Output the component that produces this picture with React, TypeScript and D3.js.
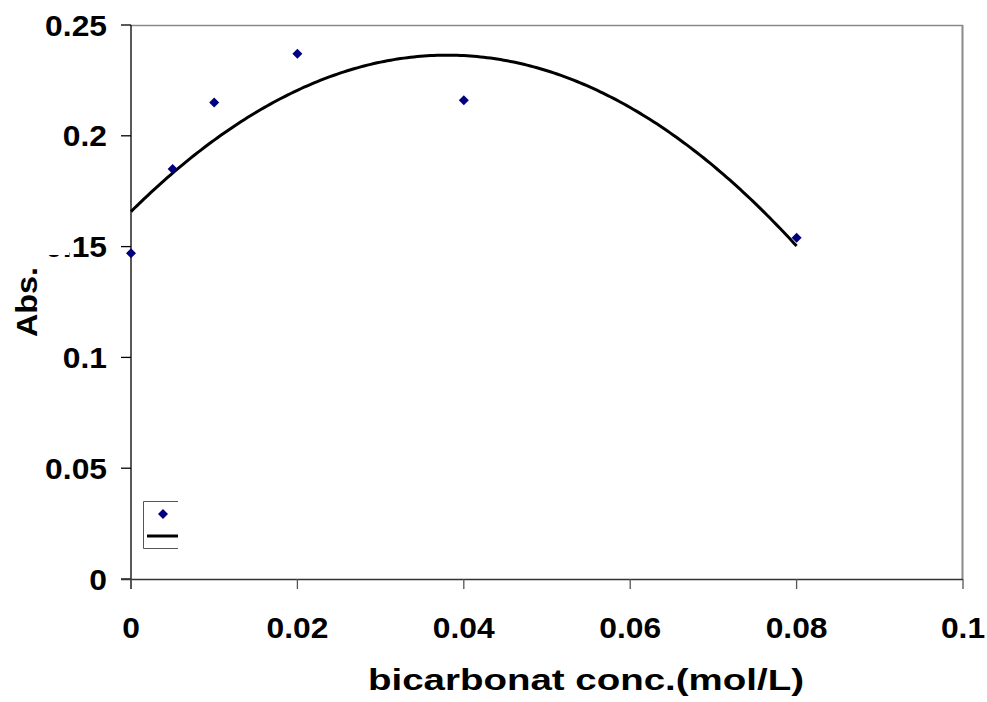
import React from "react";
import * as d3 from "d3";

// Bicarbonate concentration (mol/L) vs absorbance
const concentrations = [0, 0.005, 0.01, 0.02, 0.04, 0.08];
const absorbances = [0.147, 0.185, 0.215, 0.237, 0.216, 0.154];
const xTicks = [0, 0.02, 0.04, 0.06, 0.08, 0.1];
const yTicks = [0, 0.05, 0.1, 0.15, 0.2, 0.25];
const xTickLabels = ["0", "0.02", "0.04", "0.06", "0.08", "0.1"];
const yTickLabels = ["0", "0.05", "0.1", "0.15", "0.2", "0.25"];

const W = 987;
const H = 702;
const FONT = "'Liberation Sans', Arial, Helvetica, sans-serif";
const LABEL_STRETCH = 1.06;

// Second-order polynomial least-squares fit: y = c0 + c1 x + c2 x^2
function quadraticFit(xs: number[], ys: number[]): [number, number, number] {
  const n = xs.length;
  let s1 = 0, s2 = 0, s3 = 0, s4 = 0, t0 = 0, t1 = 0, t2 = 0;
  for (let i = 0; i < n; i++) {
    const x = xs[i], y = ys[i];
    s1 += x; s2 += x * x; s3 += x * x * x; s4 += x * x * x * x;
    t0 += y; t1 += x * y; t2 += x * x * y;
  }
  const M = [
    [n, s1, s2, t0],
    [s1, s2, s3, t1],
    [s2, s3, s4, t2],
  ];
  for (let i = 0; i < 3; i++) {
    let p = i;
    for (let r = i + 1; r < 3; r++) if (Math.abs(M[r][i]) > Math.abs(M[p][i])) p = r;
    [M[i], M[p]] = [M[p], M[i]];
    for (let r = 0; r < 3; r++) {
      if (r === i) continue;
      const f = M[r][i] / M[i][i];
      for (let k = i; k < 4; k++) M[r][k] -= f * M[i][k];
    }
  }
  return [M[0][3] / M[0][0], M[1][3] / M[1][1], M[2][3] / M[2][2]];
}

export default function App() {
  const x = d3.scaleLinear().domain([0, 0.1]).range([131, 963]);
  const y = d3.scaleLinear().domain([0, 0.25]).range([579, 25]);

  const [c0, c1, c2] = quadraticFit(concentrations, absorbances);
  const xMax = d3.max(concentrations) as number;
  const fitX = d3.range(0, 201).map((i) => (i / 200) * xMax);
  const fitLine = d3
    .line<number>()
    .x((v) => x(v))
    .y((v) => y(c0 + c1 * v + c2 * v * v))
    .curve(d3.curveLinear);

  const diamond = (cx: number, cy: number, r = 5) =>
    `M${cx},${cy - r}L${cx + r},${cy}L${cx},${cy + r}L${cx - r},${cy}Z`;

  return (
    <svg
      width={W}
      height={H}
      style={{ position: "absolute", left: 0, top: 0, background: "#fff" }}
    >
      <rect x={0} y={0} width={W} height={H} fill="#fff" />

      {/* plot frame */}
      <line x1={131} x2={963} y1={25.5} y2={25.5} stroke="#8a8a8a" strokeWidth={1.5} />
      <line x1={962.5} x2={962.5} y1={25} y2={579} stroke="#8a8a8a" strokeWidth={2} />

      {/* y axis */}
      <line x1={131} x2={131} y1={25} y2={589} stroke="#000" strokeWidth={1.3} />
      {yTicks.map((t, i) => (
        <g key={"yt" + i}>
          <line x1={121} x2={131} y1={y(t)} y2={y(t)} stroke="#000" strokeWidth={1.3} />
          <text
            transform={`translate(107,${y(t) + 10.5}) scale(${LABEL_STRETCH},1)`}
            textAnchor="end"
            fontFamily={FONT}
            fontWeight="bold"
            fontSize={30}
            fill="#000"
          >
            {yTickLabels[i]}
          </text>
        </g>
      ))}

      {/* x axis */}
      <line x1={121} x2={963} y1={579.5} y2={579.5} stroke="#333" strokeWidth={1.3} />
      {xTicks.map((t, i) => (
        <g key={"xt" + i}>
          <line x1={x(t)} x2={x(t)} y1={579} y2={589} stroke="#555" strokeWidth={1.3} />
          <text
            transform={`translate(${x(t)},638) scale(${LABEL_STRETCH},1)`}
            textAnchor="middle"
            fontFamily={FONT}
            fontWeight="bold"
            fontSize={30}
            fill="#000"
          >
            {xTickLabels[i]}
          </text>
        </g>
      ))}

      {/* fitted trend curve */}
      <path d={fitLine(fitX) || ""} fill="none" stroke="#000" strokeWidth={3} />

      {/* measured points */}
      {concentrations.map((c, i) => (
        <path key={"pt" + i} d={diamond(x(c), y(absorbances[i]))} fill="#000080" />
      ))}

      {/* legend */}
      <path d="M178,501.5H143.5V548.5H178" fill="none" stroke="#555" strokeWidth={1} />
      <path d={diamond(163, 514)} fill="#000080" />
      <line x1={147} x2={178} y1={536} y2={536} stroke="#000" strokeWidth={3} />

      {/* y axis title with its white backing */}
      <rect x={0} y={180} width={69} height={75} fill="#fff" />
      <text
        transform="translate(37,302) rotate(-90)"
        textAnchor="middle"
        fontFamily={FONT}
        fontWeight="bold"
        fontSize={30}
        textLength={70}
        lengthAdjust="spacingAndGlyphs"
        fill="#000"
      >
        Abs.
      </text>

      {/* x axis title */}
      <text
        x={586}
        y={690}
        textAnchor="middle"
        fontFamily={FONT}
        fontWeight="bold"
        fontSize={30}
        textLength={436}
        lengthAdjust="spacingAndGlyphs"
        fill="#000"
      >
        bicarbonat conc.(mol/L)
      </text>
    </svg>
  );
}
